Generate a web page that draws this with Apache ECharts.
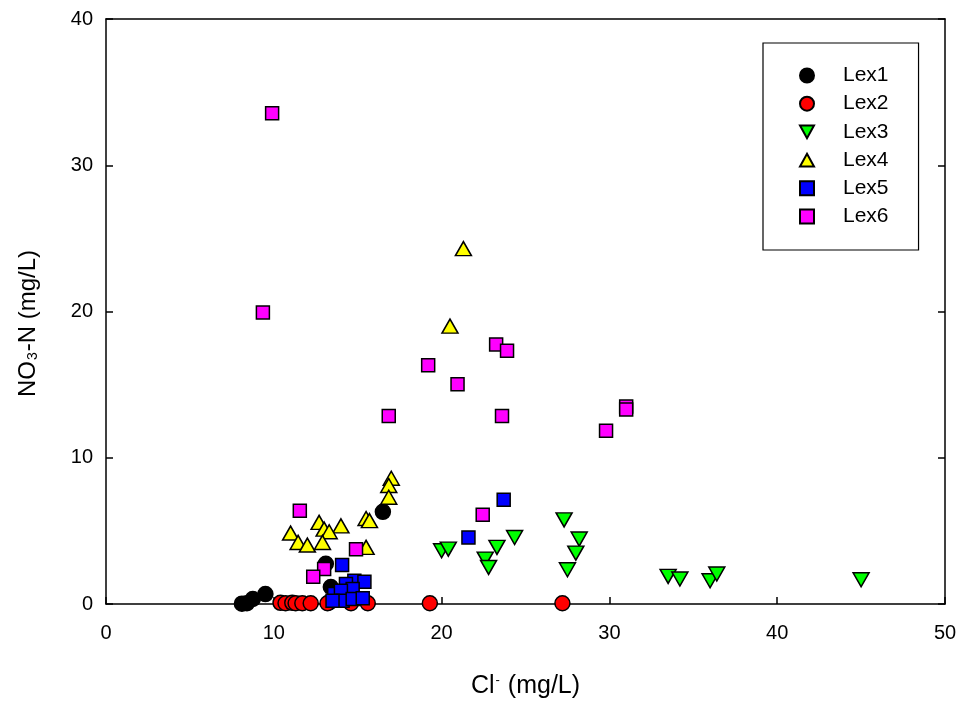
<!DOCTYPE html>
<html>
<head>
<meta charset="utf-8">
<script src="https://cdn.jsdelivr.net/npm/echarts@6/dist/echarts.min.js"></script>
<style>
  html, body { margin: 0; padding: 0; background: #fff; }
  #chart { width: 963px; height: 704px; }
</style>
</head>
<body>
<div id="chart"></div>
<script>
// Cl- (mg/L), NO3-N (mg/L) pairs
const lex1 = [[8.1, 0.02], [8.4, 0.05], [8.75, 0.34], [9.5, 0.68], [13.1, 2.75], [13.4, 1.16], [13.3, 0.1], [16.5, 6.3]];
const lex2 = [[10.4, 0.08], [10.7, 0.05], [11.1, 0.08], [11.3, 0.05], [11.7, 0.05], [12.2, 0.05],
  [13.2, 0.05], [14.6, 0.05], [15.6, 0.05], [19.3, 0.05], [27.2, 0.05]];
const lex3 = [[20.0, 3.64], [20.4, 3.75], [23.3, 3.87], [24.35, 4.55], [22.6, 3.07], [22.8, 2.5],
  [27.3, 5.75], [28.2, 4.44], [28.0, 3.48], [27.5, 2.34], [33.5, 1.89], [34.2, 1.71],
  [36.0, 1.59], [36.4, 2.05], [45.0, 1.66]];
const lex4 = [[21.3, 24.3], [20.5, 19.0], [17.0, 8.6], [16.85, 8.1], [16.85, 7.3], [15.5, 5.85],
  [15.7, 5.7], [12.7, 5.58], [14.0, 5.34], [13.0, 5.12], [13.3, 4.94], [11.0, 4.85],
  [11.45, 4.21], [12.0, 4.03], [12.9, 4.21], [15.5, 3.87]];
const lex5 = [[23.7, 7.12], [21.6, 4.55], [14.07, 2.66], [14.8, 1.59], [15.4, 1.52], [14.3, 1.37],
  [14.7, 1.02], [13.6, 0.68], [14.0, 0.91], [14.1, 0.23], [14.7, 0.34], [15.3, 0.39], [13.5, 0.23]];
const lex6 = [[9.9, 33.55], [9.35, 19.93], [19.2, 16.33], [20.95, 15.02], [23.25, 17.75], [23.9, 17.32],
  [16.85, 12.85], [23.6, 12.85], [29.8, 11.85], [31.0, 13.5], [31.0, 13.3], [11.55, 6.37],
  [14.9, 3.75], [13.0, 2.39], [12.35, 1.86], [22.45, 6.1]];

const seriesNames = ['Lex1', 'Lex2', 'Lex3', 'Lex4', 'Lex5', 'Lex6'];
const seriesData = [lex1, lex2, lex3, lex4, lex5, lex6];
const colors = ['#000000', '#ff0000', '#00ff00', '#ffff00', '#0000ff', '#ff00ff'];
const downTriangle = 'path://M0,0 L10,0 L5,9 Z';
const upTriangle = 'path://M5,0 L10,9 L0,9 Z';
const symbols = ['circle', 'circle', downTriangle, upTriangle, 'rect', 'rect'];
const sizes = [15, 15, [16, 14], [16, 14], 13, 13];

const xTicks = [0, 10, 20, 30, 40, 50];
const yTicks = [0, 10, 20, 30, 40];

const font = 'Liberation Sans, Arial, sans-serif';
const chart = echarts.init(document.getElementById('chart'));

const axisCommon = {
  axisLine: { show: true, onZero: false, lineStyle: { color: '#000', width: 1.5 } },
  axisTick: { show: true, inside: true, length: 7, lineStyle: { color: '#000', width: 1.5 } },
  splitLine: { show: false },
  axisLabel: { color: '#000', fontSize: 20, fontFamily: font }
};

chart.setOption({
  animation: false,
  backgroundColor: '#fff',
  grid: { left: 106, right: 18, top: 19, bottom: 99 },
  legend: {
    orient: 'vertical',
    left: 763,
    top: 43,
    padding: [22, 30, 23, 36],
    borderColor: '#000',
    borderWidth: 1.2,
    itemWidth: 14,
    itemHeight: 14,
    itemGap: 7.2,
    textStyle: { fontSize: 21, fontFamily: font, color: '#000', padding: [0, 0, 0, 24] },
    data: seriesNames
  },
  xAxis: [{
    ...axisCommon,
    type: 'value', min: xTicks[0], max: xTicks[xTicks.length - 1], interval: 10,
    position: 'bottom',
    axisLabel: { ...axisCommon.axisLabel, margin: 19 },
    name: '{a|Cl}{sup|-}{a| (mg/L)}',
    nameLocation: 'middle', nameGap: 70,
    nameTextStyle: {
      rich: {
        a: { fontSize: 25, fontFamily: font, color: '#000' },
        sup: { fontSize: 13, fontFamily: font, color: '#000', verticalAlign: 'top', padding: [0, 1, 12, 1] }
      }
    }
  }, {
    type: 'value', min: 0, max: 50, position: 'top',
    axisLine: { show: true, onZero: false, lineStyle: { color: '#000', width: 1.5 } },
    axisTick: { show: false }, axisLabel: { show: false }, splitLine: { show: false }
  }],
  yAxis: [{
    ...axisCommon,
    type: 'value', min: yTicks[0], max: yTicks[yTicks.length - 1], interval: 10,
    position: 'left',
    axisLabel: { ...axisCommon.axisLabel, margin: 13 },
    name: '{a|NO}{sub|3}{a|-N (mg/L)}',
    nameLocation: 'middle', nameGap: 66,
    nameTextStyle: {
      padding: [0, 24, 0, 0],
      rich: {
        a: { fontSize: 24, fontFamily: font, color: '#000' },
        sub: { fontSize: 14, fontFamily: font, color: '#000', verticalAlign: 'bottom', padding: [10, 1, 0, 1] }
      }
    }
  }, {
    ...axisCommon,
    type: 'value', min: 0, max: 40, interval: 10, position: 'right',
    axisLabel: { show: false }
  }],
  series: seriesNames.map((name, i) => ({
    name,
    type: 'scatter',
    data: seriesData[i],
    symbol: symbols[i],
    symbolSize: sizes[i],
    itemStyle: { color: colors[i], borderColor: '#000', borderWidth: 1.5, opacity: 1 }
  }))
});
</script>
</body>
</html>
